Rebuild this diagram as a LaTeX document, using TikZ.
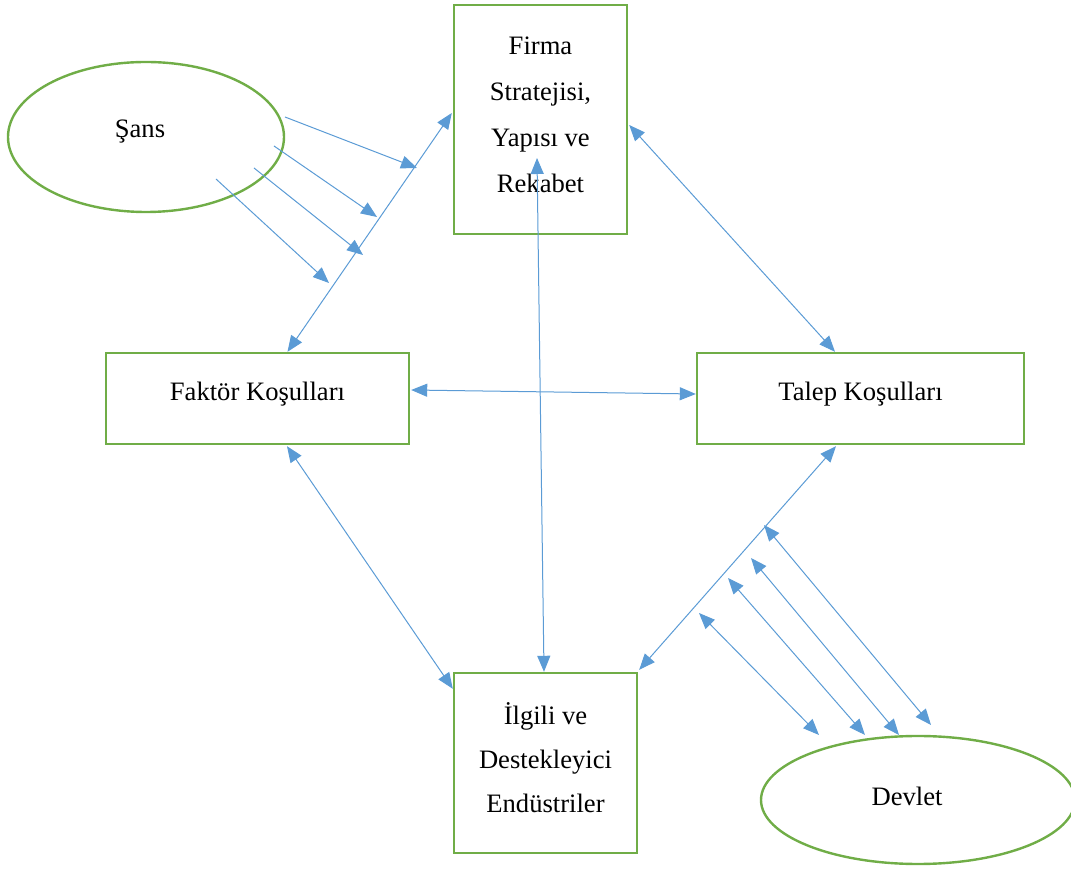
\documentclass[tikz,border=0pt]{standalone}
\usepackage{fontspec}
\setmainfont{Liberation Serif}
\usetikzlibrary{arrows.meta,calc,shapes.geometric}
\definecolor{okmavi}{HTML}{5B9BD5}
\definecolor{cizgiyesil}{HTML}{70AD47}
\tikzset{
    kutu/.style={draw=cizgiyesil,line width=1.2pt,align=center,inner sep=0pt,
        text depth=7pt,font=\fontsize{13.3}{23}\selectfont},
    elips/.style={draw=cizgiyesil,line width=1.2pt,ellipse,inner sep=0pt,
        font=\fontsize{13.3}{23}\selectfont},
    ok/.style={draw=okmavi,line width=0.5pt,-{Triangle[length=8pt,width=6.5pt]}},
    ciftok/.style={ok,{Triangle[length=8pt,width=6.5pt]}-{Triangle[length=8pt,width=6.5pt]}}
}
\begin{document}
\begin{tikzpicture}[x=0.5pt,y=-0.5pt]
    \useasboundingbox (0,0) rectangle (1071,870);
    % kutular
    \node[kutu,minimum width=86.5pt,minimum height=114.5pt,text depth=5pt] (firma) at (540.5,119.5)
        {Firma\\Stratejisi,\\Yapısı ve\\Rekabet};
    \node[kutu,minimum width=151.5pt,minimum height=45.5pt] (faktor) at (257.5,398.5)
        {Faktör Koşulları};
    \node[kutu,minimum width=163.5pt,minimum height=45.5pt] (talep) at (860.5,398.5)
        {Talep Koşulları};
    \node[kutu,minimum width=91.5pt,minimum height=90pt,text depth=5pt,
        font=\fontsize{13.3}{22}\selectfont] (ilgili) at (545.5,763)
        {İlgili ve\\Destekleyici\\Endüstriler};
    % elipsler
    \node[elips,minimum width=138pt,minimum height=75pt] (sans) at (146,137) {};
    \node at (140,132) {\fontsize{13.3}{23}\selectfont Şans};
    \node[elips,minimum width=157pt,minimum height=64pt] (devlet) at (918,800) {};
    \node at (907,796) {\fontsize{13.3}{23}\selectfont Devlet};
    % elmas baglantilari
    \draw[ciftok] ($(faktor.north)+(30,0)$) -- ($(firma.west)+(-1,-6.5)$);
    \draw[ciftok] ($(firma.east)+(1,5.5)$) -- ($(talep.north)+(-25.5,0)$);
    \draw[ciftok] ($(faktor.east)+(1,-8.5)$) -- ($(talep.west)+(0,-4.5)$);
    \draw[ciftok] ($(firma.center)+(-3.5,38.5)$) -- ($(ilgili.north)+(-1.5,0)$);
    \draw[ciftok] ($(faktor.south)+(29.5,1)$) -- ($(ilgili.north west)+(0,17)$);
    \draw[ciftok] ($(talep.south)+(-24.5,1)$) -- ($(ilgili.north east)+(1,-2)$);
    % sans oklari
    \coordinate (s1) at (417,168);
    \coordinate (s2) at (377,217);
    \coordinate (s3) at (363,255);
    \coordinate (s4) at (329,283);
    \draw[ok] ($(sans.center)+(139,-20)$) -- (s1);
    \draw[ok] ($(sans.center)+(128,9)$) -- (s2);
    \draw[ok] ($(sans.center)+(108,31)$) -- (s3);
    \draw[ok] ($(sans.center)+(70,42)$) -- (s4);
    % devlet oklari
    \coordinate (d1) at (699,613);
    \coordinate (d2) at (728,578);
    \coordinate (d3) at (751,558);
    \coordinate (d4) at (764,525);
    \draw[ciftok] (d1) -- ($(devlet.center)+(-99,-65)$);
    \draw[ciftok] (d2) -- ($(devlet.center)+(-53,-65)$);
    \draw[ciftok] (d3) -- ($(devlet.center)+(-19,-65)$);
    \draw[ciftok] (d4) -- ($(devlet.center)+(13,-75)$);
\end{tikzpicture}
\end{document}
